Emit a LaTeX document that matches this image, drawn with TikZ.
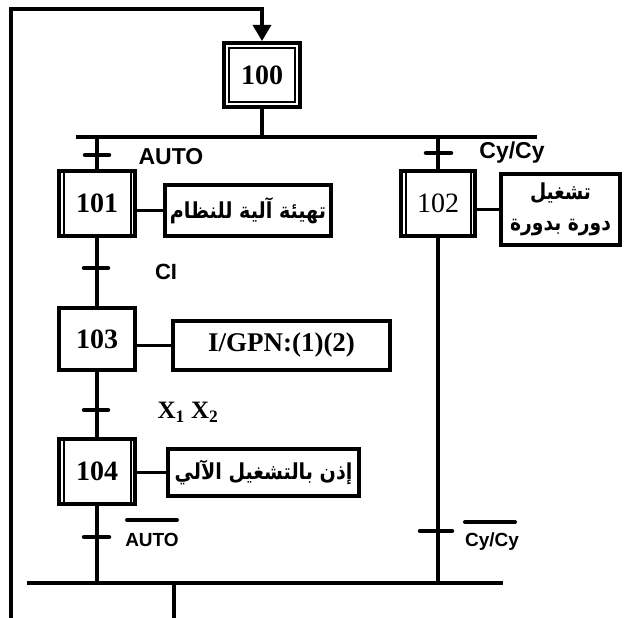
\documentclass[tikz,border=0pt]{standalone}
\usepackage{fontspec}
\usepackage{graphicx}
\setmainfont{Liberation Serif}
\newfontfamily\arialf{Liberation Sans}
\newfontfamily\arabicfont[Script=Arabic]{DejaVu Sans}
\TeXXeTstate=1
\usetikzlibrary{arrows.meta}
\newcommand{\artxt}[2][0.87]{\scalebox{#1}[1]{\beginR #2\endR}}
\begin{document}
\begin{tikzpicture}[x=1pt,y=-1pt,
  wire/.style={line width=3.2pt},
  tick/.style={line width=4.5pt,line cap=round},
  stepbox/.style={draw,line width=4pt,inner sep=0pt,font=\fontsize{28}{28}\selectfont\bfseries},
  actbox/.style={draw,line width=4pt,inner sep=0pt,align=center},
  inner/.style={line width=2pt},
  lab/.style={inner sep=0pt,font=\arialf\bfseries\fontsize{22}{22}\selectfont},
  arab/.style={font=\arabicfont\bfseries\fontsize{22}{26}\selectfont}]
\useasboundingbox (0,0) rectangle (624,618);
% steps
\node[stepbox,minimum width=76pt,minimum height=64pt] (s100) at (262,75) {100};
\draw[inner] ([shift={(7,7)}]s100.north west) rectangle ([shift={(-7,-7)}]s100.south east);
\node[stepbox,minimum width=76pt,minimum height=65pt] (s101) at (97,203.5) {101};
\node[stepbox,minimum width=76pt,minimum height=62pt] (s103) at (97,339) {103};
\node[stepbox,minimum width=76pt,minimum height=65pt] (s104) at (97,471.5) {104};
\node[stepbox,minimum width=74pt,minimum height=65pt,font=\fontsize{28}{28}\selectfont] (s102) at (438,203.5) {102};
\foreach \s in {s101,s104,s102}{
  \draw[inner] ([xshift=6.5pt]\s.north west) -- ([xshift=6.5pt]\s.south west);
  \draw[inner] ([xshift=-6.5pt]\s.north east) -- ([xshift=-6.5pt]\s.south east);
}
% actions
\node[actbox,minimum width=166pt,minimum height=51pt,arab] (a101) at (248,210.5) {\artxt{تهيئة آلية للنظام}};
\node[actbox,minimum width=217pt,minimum height=49pt,font=\fontsize{27}{27}\selectfont\bfseries] (a103) at (281.5,345.5) {I/GPN:(1)(2)};
\node[actbox,minimum width=191pt,minimum height=47pt,arab] (a104) at (263.5,472.5) {\artxt{إذن بالتشغيل الآلي}};
\node[actbox,minimum width=119pt,minimum height=71pt,arab] (a102) at (560.5,209.5) {\artxt[0.85]{تشغيل}\\[5pt]\artxt[0.85]{دورة بدورة}};
\draw[wire] (s101.east |- a101.west) -- (a101.west);
\draw[wire] (s103.east |- a103.west) -- (a103.west);
\draw[wire] (s104.east |- a104.west) -- (a104.west);
\draw[wire] (s102.east |- a102.west) -- (a102.west);
% bars
\coordinate (tbL) at (76,137);
\coordinate (tbR) at (537,137);
\coordinate (bbL) at (27,583);
\coordinate (bbR) at (503,583);
\draw[wire] (tbL) -- (tbR);
\draw[wire] (bbL) -- (bbR);
\draw[wire] (s100.south) -- (s100.south |- tbL);
\draw[wire] (s101.north |- tbL) -- (s101.north);
\draw[wire] (s102.north |- tbL) -- (s102.north);
\draw[wire] (s101.south) -- (s103.north);
\draw[wire] (s103.south) -- (s104.north);
\draw[wire] (s104.south) -- (s104.south |- bbL);
\draw[wire] (s102.south) -- (s102.south |- bbL);
% output and loop
\coordinate (out) at (174,583);
\coordinate (outE) at (174,618);
\coordinate (lpB) at (11,618);
\coordinate (lpT) at (11,9);
\draw[wire] (out) -- (outE);
\draw[wire,-{Triangle[length=16pt,width=18pt]}] (lpB) -- (lpT) -- (lpT -| s100.north) -- (s100.north);
% transitions
\draw[tick] (85,155) -- (109,155);
\draw[tick] (426,153) -- (451,153);
\draw[tick] (84,268) -- (108,268);
\draw[tick] (84,410) -- (108,410);
\draw[tick] (84,537) -- (109,537);
\draw[tick] (420,531) -- (452,531);
% transition labels
\node[lab,font=\arialf\bfseries\fontsize{23}{23}\selectfont] (l1) at (171,157) {AUTO};
\node[lab,font=\arialf\bfseries\fontsize{23}{23}\selectfont] (l2) at (512,153) {Cy/Cy};
\node[lab,font=\arialf\bfseries\fontsize{22}{22}\selectfont] (l3) at (166,272) {CI};
\node[inner sep=0pt,font=\fontsize{25}{25}\selectfont\bfseries] (l4) at (188,412) {X$_{\mathbf 1}$ X$_{\mathbf 2}$};
\node[lab,font=\arialf\bfseries\fontsize{19}{19}\selectfont] (l5) at (152,540) {AUTO};
\draw[line width=4pt,line cap=round] (127,520) -- (177,520);
\node[lab,font=\arialf\bfseries\fontsize{19}{19}\selectfont] (l6) at (492,542) {Cy/Cy};
\draw[line width=4pt,line cap=round] (465,522) -- (515,522);
\end{tikzpicture}
\end{document}
